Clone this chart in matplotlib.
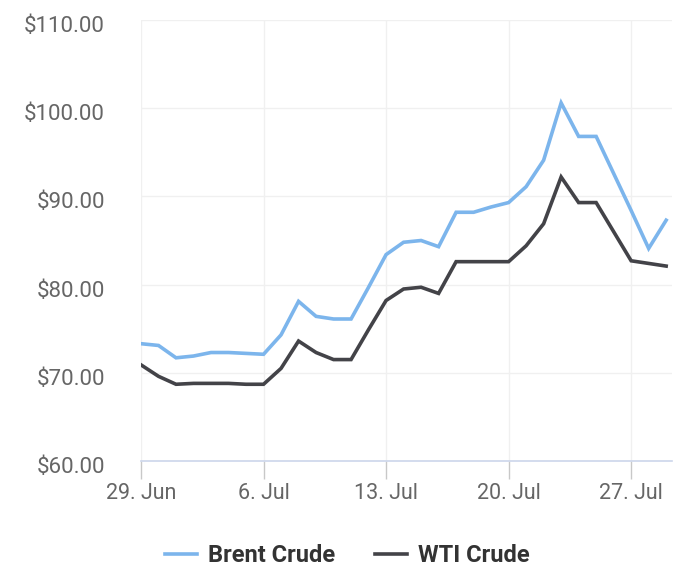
# plot.py
# Brent vs WTI crude prices, 29 Jun - 29 Jul

import pandas as pd
import matplotlib
matplotlib.use('Agg')
import matplotlib.pyplot as plt
import matplotlib.dates as mdates
import matplotlib.transforms as mtransforms
from matplotlib.ticker import FuncFormatter

plt.rcParams['font.family'] = ['Roboto', 'DejaVu Sans']

# daily closing prices
brent = [73.3, 73.1, 71.7, 71.9, 72.3, 72.3, 72.2, 72.1,
         74.3, 78.1, 76.4, 76.1, 76.1, 79.7, 83.4,
         84.8, 85.0, 84.3, 88.2, 88.2, 88.8, 89.3,
         91.1, 94.1, 100.6, 96.8, 96.8, 92.6, 88.4,
         84.1, 87.3]
wti = [70.9, 69.6, 68.7, 68.8, 68.8, 68.8, 68.7, 68.7,
       70.5, 73.6, 72.3, 71.5, 71.5, 74.9, 78.2,
       79.5, 79.7, 79.0, 82.6, 82.6, 82.6, 82.6,
       84.4, 86.9, 92.2, 89.3, 89.3, 86.0, 82.7,
       82.4, 82.1]
dates = pd.date_range('2022-06-29', periods=len(brent), freq='D')
tick_dates = pd.date_range('2022-06-29', periods=5, freq='7D')
y_ticks = [60, 70, 80, 90, 100, 110]

fig = plt.figure(figsize=(7, 5.81), dpi=100)
ax = fig.add_axes([141 / 700, 1 - 461 / 581, 531 / 700, 441 / 581])

ax.plot(dates, brent, color='#7cb5ec', lw=2.6, label='Brent Crude',
        solid_joinstyle='miter', zorder=3)
ax.plot(dates, wti, color='#434348', lw=2.6, label='WTI Crude',
        solid_joinstyle='miter', zorder=3)

ax.set_ylim(60, 110)
ax.set_xlim(dates[0], dates[-1] + pd.Timedelta(hours=8))
ax.set_yticks(y_ticks)
ax.set_xticks(tick_dates)
ax.yaxis.set_major_formatter(FuncFormatter(lambda v, p: f'${v:.2f}'))
ax.xaxis.set_major_formatter(
    FuncFormatter(lambda v, p: f"{mdates.num2date(v).day}. {mdates.num2date(v).strftime('%b')}"))

# grid and spines
ax.grid(True, color='#f0f0f0', lw=1.0, zorder=0)
ax.set_axisbelow(True)
for s in ['top', 'right', 'left']:
    ax.spines[s].set_visible(False)
ax.spines['bottom'].set_color('#ccd6eb')
ax.spines['bottom'].set_linewidth(1.2)

ax.tick_params(axis='y', length=0, pad=26, labelsize=16, labelcolor='#666666')
ax.tick_params(axis='x', length=13, width=1, color='#c8c8c8', pad=3,
               labelsize=15.5, labelcolor='#666666')

# nudge y labels slightly down like the original
offset = mtransforms.ScaledTranslation(0, -4 / 100, fig.dpi_scale_trans)
for lab in ax.get_yticklabels():
    lab.set_transform(lab.get_transform() + offset)

fig.legend(loc='center', bbox_to_anchor=(0.496, 0.044), ncol=2, frameon=False,
           prop={'weight': 'bold', 'size': 17}, labelcolor='#333333',
           handlelength=1.35, handletextpad=0.45, columnspacing=1.7)

fig.savefig('out.png', dpi=100)
